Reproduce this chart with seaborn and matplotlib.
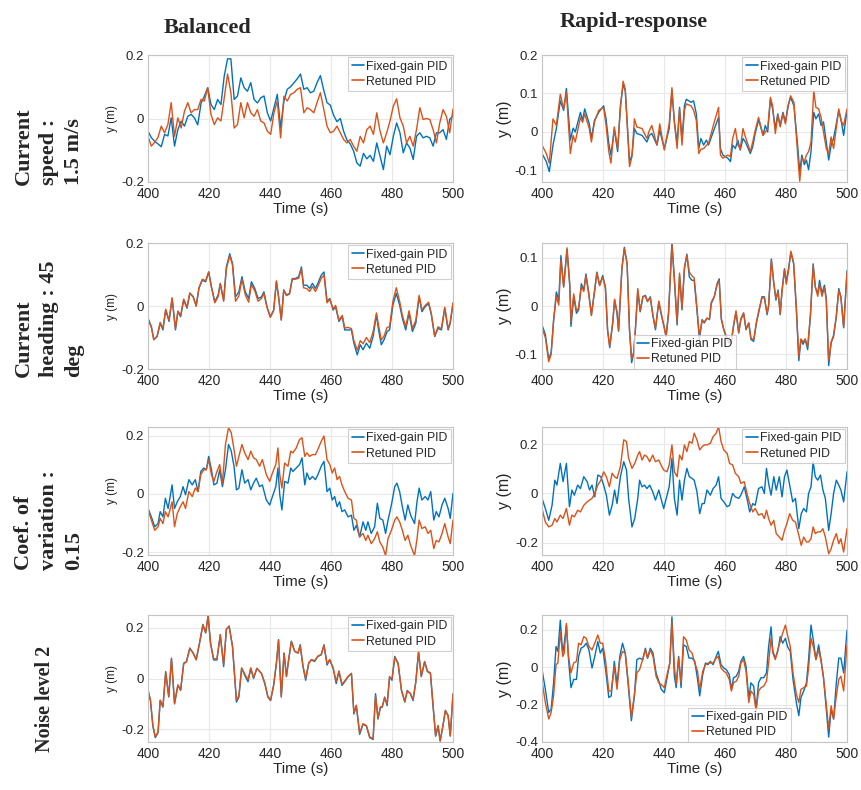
import numpy as np
import seaborn as sns
import matplotlib.pyplot as plt

# Simulated lateral position y (m) vs time, two controllers, four scenarios x two tunings

labels_fixed = "Fixed-gain PID"
labels_fixed_typo = "Fixed-gian PID"
labels_retuned = "Retuned PID"

row_titles = ["Current\nspeed :\n1.5 m/s", "Current\nheading : 45\ndeg",
              "Coef. of\nvariation :\n0.15", "Noise level 2"]
col_titles = ["Balanced", "Rapid-response"]

# ---- current speed, balanced ----
t_speed_bal = np.linspace(400, 500, 93)
speed_bal_fixed = [
    -0.040, -0.060, -0.072, -0.080, -0.089, -0.050, -0.055, 0.002, -0.087, -0.035,
    -0.008, -0.024, 0.007, 0.013, 0.002, -0.020, 0.048, 0.070, 0.097, 0.044,
    0.028, 0.060, 0.044, 0.134, 0.188, 0.188, 0.060, 0.071, 0.128, 0.097,
    0.086, 0.113, 0.060, 0.049, 0.065, 0.071, 0.018, -0.008, 0.034, 0.076,
    -0.029, 0.055, 0.092, 0.100, 0.112, 0.125, 0.140, 0.092, 0.097, 0.081,
    0.086, 0.113, 0.135, 0.090, 0.050, 0.042, 0.010, -0.010, 0.000, -0.040,
    -0.068, -0.080, -0.102, -0.140, -0.150, -0.110, -0.127, -0.116, -0.135, -0.077,
    -0.119, -0.161, -0.087, -0.114, -0.056, -0.014, -0.045, -0.108, -0.077, -0.093,
    -0.129, -0.056, -0.045, -0.061, -0.056, -0.061, -0.087, -0.045, -0.045, -0.035,
    -0.066, -0.003, 0.009]
speed_bal_retuned = [
    -0.056, -0.087, -0.075, -0.060, -0.024, -0.045, -0.019, 0.050, -0.056, 0.002,
    -0.030, 0.023, 0.050, 0.018, 0.028, 0.028, 0.060, 0.055, 0.097, 0.013,
    -0.019, 0.002, -0.008, 0.065, 0.140, 0.081, -0.030, -0.019, 0.050, 0.002,
    0.050, 0.018, 0.007, 0.028, -0.008, -0.014, -0.040, -0.050, 0.018, 0.055,
    -0.061, 0.070, 0.055, 0.076, 0.081, 0.092, 0.097, 0.018, 0.034, 0.028,
    0.018, 0.050, 0.081, 0.030, -0.024, -0.045, -0.040, -0.024, -0.045, -0.066,
    -0.077, -0.066, -0.087, -0.103, -0.056, -0.077, -0.035, -0.024, -0.050, 0.018,
    -0.040, -0.077, -0.045, -0.008, 0.039, 0.062, 0.002, -0.024, -0.077, -0.056,
    -0.087, -0.035, 0.034, -0.003, 0.000, -0.003, -0.035, -0.077, -0.014, 0.028,
    0.007, -0.045, 0.030]

# ---- current speed, rapid-response ----
t_speed_rapid = [
    400.0, 401.4, 402.4, 403.6, 404.7, 406.0, 407.1, 408.0, 409.3, 410.2,
    410.9, 412.6, 413.3, 414.0, 415.5, 416.2, 417.2, 418.6, 420.2, 421.0,
    421.9, 422.6, 423.7, 424.8, 425.7, 426.6, 427.3, 428.7, 429.5, 430.3,
    431.1, 432.8, 434.4, 435.2, 436.0, 437.7, 438.6, 440.1, 441.7, 442.6,
    443.4, 444.3, 445.1, 445.9, 446.7, 447.3, 448.9, 449.7, 450.6, 451.4,
    452.1, 453.0, 453.9, 454.6, 456.3, 457.9, 458.5, 459.3, 460.9, 461.8,
    462.5, 463.4, 464.2, 465.0, 465.9, 466.7, 468.3, 469.1, 469.9, 471.0,
    472.5, 473.2, 474.0, 474.9, 475.6, 476.5, 477.3, 478.1, 479.0, 479.8,
    480.7, 481.5, 482.6, 483.8, 484.5, 485.2, 486.0, 486.7, 487.4, 488.2,
    489.1, 489.8, 490.7, 491.5, 492.3, 493.2, 494.0, 494.8, 495.6, 497.3,
    498.0, 498.9, 500.0]
speed_rapid_fixed = [
    -0.056, -0.077, -0.103, -0.034, 0.009, 0.081, 0.056, 0.113, -0.021, 0.010,
    0.0, 0.051, 0.030, 0.060, 0.021, -0.017, 0.030, 0.051, 0.068, 0.034,
    -0.030, -0.060, 0.007, -0.051, 0.068, 0.124, 0.107, -0.077, -0.060, 0.009,
    -0.004, -0.009, -0.026, -0.009, -0.004, -0.034, 0.004, -0.043, 0.009, 0.107,
    0.026, -0.030, 0.064, -0.021, 0.068, 0.085, 0.077, 0.081, 0.047, -0.043,
    -0.017, -0.034, -0.021, -0.034, 0.004, 0.038, -0.043, -0.060, -0.068, -0.077,
    -0.034, -0.043, -0.021, -0.047, -0.017, -0.026, -0.056, -0.038, -0.004, 0.032,
    -0.009, 0.017, 0.0, 0.085, 0.060, 0.009, 0.047, 0.017, 0.051, 0.026,
    0.068, 0.090, 0.068, -0.034, -0.103, -0.060, -0.085, -0.073, -0.098, -0.051,
    0.051, 0.034, 0.047, 0.017, 0.026, -0.026, -0.073, -0.034, -0.017, 0.056,
    0.034, -0.009, 0.056]
speed_rapid_retuned = [
    -0.034, -0.056, -0.081, 0.034, 0.017, 0.098, 0.060, 0.103, -0.056, -0.009,
    -0.026, 0.038, 0.025, 0.047, 0.009, -0.026, 0.026, 0.056, 0.064, 0.017,
    -0.051, -0.081, 0.013, -0.043, 0.060, 0.132, 0.111, -0.090, -0.064, 0.034,
    0.013, 0.009, -0.017, 0.004, 0.017, -0.034, 0.021, -0.047, 0.021, 0.115,
    0.026, -0.043, 0.060, -0.034, 0.056, 0.073, 0.068, 0.056, 0.030, -0.056,
    -0.045, -0.043, -0.035, -0.030, 0.021, 0.064, -0.060, -0.068, -0.060, -0.064,
    -0.017, 0.009, -0.034, -0.043, 0.009, -0.013, -0.051, -0.026, 0.004, 0.038,
    -0.009, 0.0, 0.009, 0.090, 0.068, -0.004, 0.043, 0.013, 0.047, 0.021,
    0.068, 0.094, 0.077, -0.056, -0.128, -0.068, -0.077, -0.060, -0.051, -0.026,
    0.107, 0.064, 0.060, 0.038, 0.0, -0.043, -0.056, -0.013, -0.043, 0.060,
    0.030, 0.017, 0.060]

# ---- current heading, balanced ----
t_heading_bal = [
    400.0, 401.1, 401.9, 403.0, 404.0, 404.9, 405.8, 406.9, 407.9, 409.0,
    409.8, 410.7, 411.7, 412.8, 413.7, 414.8, 415.8, 416.7, 417.8, 418.9,
    419.9, 420.8, 421.9, 423.0, 423.7, 424.8, 425.7, 426.8, 427.7, 428.7,
    429.8, 430.8, 431.9, 433.0, 433.9, 435.0, 436.1, 437.2, 438.0, 439.0,
    440.1, 441.2, 442.1, 442.8, 443.7, 444.5, 445.4, 446.4, 447.3, 448.3,
    449.4, 450.3, 451.0, 452.1, 453.0, 453.9, 454.9, 455.7, 456.8, 457.7,
    458.7, 459.6, 460.7, 461.5, 462.6, 463.7, 464.5, 465.6, 466.7, 467.5,
    468.6, 469.6, 470.5, 471.6, 472.7, 473.8, 474.9, 475.6, 476.5, 477.4,
    478.4, 479.2, 480.3, 481.4, 482.5, 483.4, 484.5, 485.6, 486.7, 487.8,
    488.9, 489.8, 490.9, 492.0, 492.9, 494.0, 495.1, 496.2, 497.3, 498.4,
    499.1, 500.0]
heading_bal_fixed = [
    -0.039, -0.065, -0.107, -0.097, -0.055, -0.076, -0.013, -0.049, 0.024, -0.076,
    -0.018, -0.034, 0.019, -0.007, 0.040, 0.029, 0.0, 0.056, 0.082, 0.077,
    0.108, 0.061, 0.014, 0.035, 0.072, 0.019, 0.124, 0.166, 0.135, 0.029,
    0.045, 0.093, 0.045, 0.024, 0.077, 0.056, 0.024, 0.029, 0.045, -0.002,
    -0.034, -0.013, 0.077, 0.029, -0.044, 0.051, 0.035, 0.040, 0.087, 0.087,
    0.093, 0.124, 0.066, 0.066, 0.056, 0.072, 0.056, 0.072, 0.098, 0.108,
    0.014, 0.024, -0.013, -0.002, -0.049, -0.034, -0.076, -0.076, -0.076, -0.118,
    -0.155, -0.123, -0.139, -0.118, -0.134, -0.097, -0.028, -0.076, -0.123, -0.107,
    -0.081, -0.076, 0.003, 0.040, 0.003, -0.039, -0.076, -0.023, -0.081, -0.055,
    0.029, -0.018, -0.002, 0.008, -0.028, -0.097, -0.071, -0.076, -0.007, -0.076,
    -0.055, 0.008]
heading_bal_retuned = [
    -0.042, -0.068, -0.107, -0.095, -0.052, -0.072, -0.010, -0.045, 0.026, -0.072,
    -0.016, -0.030, 0.022, -0.004, 0.042, 0.030, 0.0, 0.058, 0.085, 0.080,
    0.108, 0.060, 0.010, 0.030, 0.070, 0.015, 0.118, 0.160, 0.130, 0.015,
    0.032, 0.085, 0.035, 0.012, 0.068, 0.048, 0.015, 0.024, 0.040, -0.004,
    -0.036, -0.015, 0.080, 0.030, -0.045, 0.050, 0.033, 0.038, 0.085, 0.085,
    0.088, 0.118, 0.058, 0.055, 0.046, 0.062, 0.046, 0.062, 0.088, 0.098,
    0.010, 0.022, -0.010, 0.002, -0.045, -0.030, -0.070, -0.068, -0.072, -0.110,
    -0.140, -0.110, -0.120, -0.100, -0.116, -0.082, -0.022, -0.062, -0.108, -0.095,
    -0.068, -0.066, 0.015, 0.058, 0.015, -0.030, -0.066, -0.015, -0.072, -0.045,
    0.034, -0.012, 0.002, 0.012, -0.024, -0.095, -0.066, -0.072, -0.004, -0.072,
    -0.050, 0.010]

# ---- current heading, rapid-response ----
t_heading_rapid = [
    400.0, 401.1, 402.2, 403.0, 403.8, 404.7, 405.5, 406.2, 407.1, 408.2,
    409.1, 409.5, 410.4, 411.3, 412.0, 412.9, 413.7, 414.4, 415.3, 416.2,
    417.2, 418.0, 418.9, 419.9, 420.8, 421.5, 422.2, 423.2, 423.8, 424.6,
    425.1, 426.2, 427.0, 427.9, 428.7, 429.4, 430.1, 430.7, 431.4, 432.2,
    433.1, 433.9, 434.6, 435.5, 436.4, 437.2, 438.3, 439.0, 439.9, 440.7,
    441.5, 442.6, 443.4, 444.3, 445.1, 445.9, 446.7, 447.5, 448.3, 449.2,
    449.9, 450.8, 451.6, 452.5, 453.2, 454.1, 454.9, 455.5, 456.5, 457.4,
    458.1, 458.8, 459.6, 460.3, 461.2, 462.0, 462.8, 463.6, 464.5, 465.2,
    466.1, 466.9, 467.8, 468.5, 469.4, 470.3, 471.0, 472.1, 472.9, 473.8,
    474.3, 475.2, 476.0, 476.7, 477.4, 478.1, 478.7, 479.5, 480.1, 480.9,
    481.6, 482.5, 483.4, 484.2, 484.9, 485.6, 486.3, 487.1, 488.0, 488.9,
    489.6, 490.4, 491.0, 491.8, 492.6, 493.2, 494.0, 494.8, 495.6, 496.5,
    497.3, 498.0, 498.9, 500.0]
heading_rapid_fixed = [
    -0.039, -0.059, -0.110, -0.096, -0.032, 0.029, 0.012, 0.104, 0.039, 0.117,
    0.046, -0.042, 0.019, -0.015, -0.008, 0.046, 0.033, 0.066, 0.029, -0.018,
    0.029, 0.070, 0.043, 0.063, 0.039, -0.049, -0.086, -0.035, 0.012, -0.015,
    -0.052, 0.077, 0.121, 0.087, -0.049, -0.117, -0.096, -0.042, 0.033, -0.012,
    0.019, 0.022, 0.009, 0.019, -0.022, -0.049, 0.009, -0.015, -0.039, -0.063,
    -0.015, 0.131, 0.053, -0.039, 0.063, -0.008, 0.077, 0.107, 0.060, 0.053,
    0.053, -0.008, -0.069, -0.028, -0.035, -0.025, -0.028, 0.005, 0.019, 0.046,
    0.056, -0.028, -0.049, -0.063, -0.076, -0.076, -0.042, -0.012, -0.056, -0.028,
    -0.015, -0.049, -0.035, -0.069, -0.073, -0.035, -0.015, 0.019, 0.019, -0.018,
    -0.001, 0.097, 0.046, 0.012, 0.033, -0.018, 0.033, 0.077, 0.049, 0.080,
    0.111, 0.087, -0.008, -0.113, -0.069, -0.079, -0.069, -0.090, -0.022, 0.087,
    0.039, 0.026, 0.053, 0.026, 0.043, 0.016, -0.123, -0.076, -0.063, -0.022,
    0.036, 0.019, -0.045, 0.073]
heading_rapid_retuned = [
    -0.045, -0.065, -0.115, -0.100, -0.028, 0.020, 0.002, 0.095, 0.040, 0.120,
    0.040, -0.032, 0.025, -0.010, -0.004, 0.040, 0.030, 0.062, 0.025, -0.020,
    0.030, 0.068, 0.042, 0.060, 0.036, -0.050, -0.084, -0.032, 0.014, -0.012,
    -0.050, 0.078, 0.118, 0.088, -0.052, -0.110, -0.094, -0.040, 0.036, -0.010,
    0.020, 0.020, 0.010, 0.017, -0.020, -0.046, 0.010, -0.012, -0.040, -0.062,
    -0.012, 0.128, 0.058, -0.034, 0.068, -0.004, 0.080, 0.105, 0.070, 0.062,
    0.058, -0.004, -0.062, -0.030, -0.033, -0.025, -0.028, 0.008, 0.020, 0.044,
    0.052, -0.026, -0.048, -0.060, -0.072, -0.075, -0.040, -0.010, -0.054, -0.026,
    -0.014, -0.047, -0.035, -0.066, -0.070, -0.033, -0.012, 0.016, 0.017, -0.015,
    0.002, 0.094, 0.048, 0.015, 0.030, -0.016, 0.030, 0.074, 0.045, 0.076,
    0.113, 0.090, -0.004, -0.105, -0.068, -0.074, -0.068, -0.084, -0.018, 0.083,
    0.040, 0.020, 0.045, 0.020, 0.038, 0.012, -0.112, -0.074, -0.060, -0.020,
    0.032, 0.018, -0.044, 0.068]

# ---- coefficient of variation, balanced ----
t_cov_bal = [
    400.0, 401.1, 402.2, 403.3, 404.0, 404.9, 405.7, 406.6, 407.9, 408.7,
    409.6, 410.6, 411.5, 412.3, 413.4, 414.5, 415.5, 416.4, 417.3, 418.3,
    419.1, 419.9, 420.8, 421.6, 422.6, 423.5, 424.4, 425.4, 426.4, 427.3,
    428.2, 429.0, 429.8, 430.8, 431.7, 432.8, 433.7, 434.6, 435.5, 436.6,
    437.5, 438.8, 439.9, 440.8, 441.9, 442.6, 443.2, 443.9, 444.8, 445.9,
    446.8, 447.5, 448.6, 449.7, 450.5, 451.4, 452.1, 453.0, 453.9, 454.9,
    455.7, 456.8, 457.7, 458.7, 459.6, 460.4, 461.2, 462.0, 462.8, 463.6,
    464.5, 465.6, 466.7, 467.5, 468.3, 469.4, 470.5, 471.4, 472.1, 473.2,
    474.3, 475.2, 476.0, 477.0, 477.9, 478.7, 479.8, 480.9, 481.6, 482.5,
    483.4, 484.3, 485.2, 486.1, 487.4, 488.2, 488.9, 489.8, 490.9, 491.8,
    492.7, 493.7, 494.5, 495.4, 496.4, 497.3, 498.4, 499.1, 500.0]
cov_bal_fixed = [
    -0.050, -0.079, -0.113, -0.102, -0.061, -0.079, -0.015, -0.050, 0.031, -0.050,
    -0.027, -0.009, 0.025, -0.003, 0.049, 0.031, 0.049, 0.008, 0.077, 0.089,
    0.083, 0.129, 0.083, 0.031, 0.037, 0.083, 0.025, 0.083, 0.170, 0.147,
    0.095, 0.014, 0.020, 0.083, 0.037, 0.049, 0.014, 0.037, 0.054, 0.025,
    0.031, -0.021, -0.038, -0.009, 0.025, 0.089, -0.003, -0.055, 0.043, 0.037,
    0.089, 0.077, 0.089, 0.101, 0.124, 0.031, 0.072, 0.049, 0.060, 0.049,
    0.066, 0.095, 0.112, 0.008, 0.020, -0.021, -0.009, -0.044, -0.027, -0.061,
    -0.055, -0.079, -0.073, -0.125, -0.108, -0.148, -0.096, -0.125, -0.096, -0.136,
    -0.113, -0.032, -0.084, -0.090, -0.136, -0.090, -0.038, 0.025, 0.037, 0.008,
    -0.044, -0.090, -0.038, -0.073, -0.102, -0.027, 0.020, -0.021, -0.009, -0.021,
    0.008, -0.090, -0.061, -0.079, -0.038, -0.015, -0.050, -0.084, 0.002]
cov_bal_retuned = [
    -0.053, -0.090, -0.125, -0.113, -0.084, -0.102, -0.061, -0.079, -0.027, -0.113,
    -0.067, -0.044, -0.027, -0.050, 0.008, -0.009, 0.020, 0.008, 0.066, 0.083,
    0.083, 0.118, 0.066, 0.043, 0.077, 0.101, 0.037, 0.170, 0.228, 0.210,
    0.153, 0.095, 0.129, 0.170, 0.141, 0.118, 0.147, 0.124, 0.118, 0.095,
    0.118, 0.066, 0.043, 0.072, 0.101, 0.158, 0.066, 0.020, 0.106, 0.095,
    0.147, 0.141, 0.158, 0.187, 0.193, 0.129, 0.141, 0.129, 0.135, 0.135,
    0.153, 0.181, 0.199, 0.118, 0.101, 0.072, 0.089, 0.049, 0.060, 0.031,
    0.008, -0.015, -0.021, -0.084, -0.090, -0.148, -0.136, -0.160, -0.142, -0.171,
    -0.154, -0.130, -0.165, -0.183, -0.212, -0.154, -0.125, -0.090, -0.079, -0.096,
    -0.125, -0.160, -0.142, -0.177, -0.212, -0.154, -0.090, -0.119, -0.113, -0.136,
    -0.125, -0.188, -0.160, -0.165, -0.136, -0.102, -0.148, -0.171, -0.090]

# ---- coefficient of variation, rapid-response ----
t_cov_rapid = [
    400.0, 401.1, 402.2, 403.3, 404.2, 404.9, 406.0, 406.9, 408.0, 409.0,
    409.8, 410.6, 411.7, 412.6, 413.7, 414.8, 415.6, 416.4, 417.3, 418.3,
    419.3, 420.2, 421.1, 422.1, 423.0, 423.8, 424.6, 425.7, 426.8, 427.7,
    428.4, 429.5, 430.4, 431.4, 432.0, 432.8, 433.6, 434.4, 435.3, 436.3,
    437.2, 438.3, 439.0, 439.9, 441.0, 441.7, 442.6, 443.4, 444.3, 445.1,
    445.9, 446.7, 447.5, 448.3, 449.2, 449.9, 450.8, 451.7, 452.5, 453.2,
    454.1, 455.2, 456.1, 457.1, 457.9, 458.7, 459.6, 460.7, 461.5, 462.5,
    463.4, 464.5, 465.2, 466.3, 467.2, 468.1, 469.1, 469.9, 471.0, 472.1,
    472.9, 473.6, 474.3, 475.1, 476.0, 476.8, 477.8, 478.7, 479.5, 480.3,
    481.2, 482.2, 483.1, 484.2, 485.0, 485.8, 486.7, 487.4, 488.2, 488.9,
    489.6, 490.4, 491.3, 492.1, 492.9, 494.0, 494.8, 495.6, 496.5, 497.3,
    498.0, 498.9, 500.0]
cov_rapid_fixed = [
    -0.020, -0.061, -0.109, -0.048, 0.054, 0.034, 0.122, 0.048, 0.122, -0.054,
    0.014, -0.007, 0.034, 0.020, 0.068, 0.048, 0.014, 0.034, -0.014, 0.075,
    0.068, 0.034, -0.007, -0.088, -0.048, 0.014, -0.041, 0.068, 0.129, 0.095,
    -0.020, -0.136, -0.102, -0.020, 0.054, 0.027, 0.034, 0.020, 0.034, 0.007,
    -0.027, 0.014, -0.020, -0.061, -0.007, 0.027, 0.143, -0.020, -0.088, 0.054,
    -0.027, 0.054, 0.102, 0.068, 0.061, 0.054, 0.007, -0.082, -0.041, -0.041,
    0.014, -0.007, 0.020, 0.034, 0.068, -0.020, -0.034, -0.054, -0.048, 0.0,
    -0.014, -0.020, -0.007, 0.027, -0.020, -0.075, -0.041, -0.048, 0.020, 0.027,
    0.0, 0.102, 0.041, -0.007, 0.068, 0.014, 0.068, -0.014, 0.068, 0.095,
    0.034, -0.034, -0.020, -0.143, -0.082, -0.061, -0.075, 0.0, 0.027, 0.129,
    0.068, 0.054, 0.075, 0.014, -0.020, -0.150, -0.082, 0.0, 0.054, 0.034,
    0.014, -0.034, 0.088]
cov_rapid_retuned = [
    -0.061, -0.116, -0.136, -0.129, -0.102, -0.116, -0.088, -0.102, -0.061, -0.129,
    -0.088, -0.095, -0.068, -0.075, -0.048, -0.034, -0.027, -0.020, 0.0, 0.034,
    0.054, 0.088, 0.068, 0.027, 0.082, 0.068, 0.061, 0.109, 0.218, 0.211,
    0.143, 0.102, 0.122, 0.156, 0.170, 0.136, 0.156, 0.150, 0.129, 0.156,
    0.129, 0.136, 0.116, 0.095, 0.088, 0.116, 0.197, 0.088, 0.068, 0.156,
    0.136, 0.197, 0.170, 0.211, 0.204, 0.245, 0.218, 0.177, 0.190, 0.197,
    0.197, 0.204, 0.231, 0.245, 0.272, 0.211, 0.177, 0.163, 0.122, 0.116,
    0.082, 0.068, 0.041, 0.048, 0.0, -0.041, -0.075, -0.061, -0.088, -0.082,
    -0.102, -0.068, -0.102, -0.129, -0.109, -0.163, -0.177, -0.190, -0.150, -0.122,
    -0.082, -0.109, -0.116, -0.170, -0.211, -0.177, -0.197, -0.197, -0.184, -0.136,
    -0.163, -0.156, -0.156, -0.143, -0.177, -0.245, -0.224, -0.190, -0.163, -0.204,
    -0.184, -0.238, -0.143]

# ---- noise level 2, balanced ----
t_noise_bal = [
    400.0, 400.8, 401.6, 402.4, 403.3, 404.0, 404.9, 405.8, 406.8, 407.7,
    408.7, 409.8, 410.7, 411.7, 412.6, 413.7, 414.8, 415.8, 416.9, 418.0,
    418.9, 419.7, 420.5, 421.5, 422.6, 423.7, 424.8, 425.7, 426.6, 427.7,
    429.0, 429.8, 430.7, 431.7, 432.8, 433.7, 434.6, 435.7, 437.2, 438.3,
    439.3, 440.2, 441.2, 442.1, 442.8, 443.7, 444.6, 445.4, 446.1, 447.0,
    448.1, 449.2, 449.9, 450.8, 451.7, 452.7, 453.6, 454.6, 455.7, 456.8,
    457.7, 458.7, 459.6, 460.7, 461.7, 462.6, 463.6, 464.5, 465.6, 466.7,
    467.5, 468.3, 469.4, 470.5, 471.6, 472.7, 473.8, 474.6, 475.4, 476.2,
    476.8, 477.6, 478.4, 479.2, 480.0, 480.9, 482.0, 483.1, 484.2, 485.0,
    486.0, 486.9, 487.8, 488.7, 489.6, 490.7, 491.6, 492.6, 493.4, 494.3,
    495.1, 495.8, 496.7, 497.5, 498.4, 499.1, 500.0]
noise_bal_fixed = [
    -0.047, -0.087, -0.187, -0.233, -0.213, -0.087, -0.113, 0.027, -0.073, 0.080,
    -0.100, -0.027, -0.047, 0.060, 0.067, 0.120, 0.100, 0.073, 0.140, 0.213,
    0.180, 0.247, 0.140, 0.073, 0.073, 0.173, 0.047, 0.193, 0.207, 0.127,
    -0.093, -0.073, 0.040, 0.013, -0.013, 0.040, 0.0, 0.040, 0.020, -0.020,
    -0.073, -0.087, -0.027, 0.060, 0.153, -0.073, 0.100, 0.007, 0.073, 0.147,
    0.107, 0.100, 0.133, 0.047, -0.007, 0.060, 0.073, 0.067, 0.087, 0.093,
    0.133, 0.053, 0.073, 0.040, -0.020, 0.027, -0.027, -0.013, 0.007, 0.020,
    -0.140, -0.107, -0.220, -0.180, -0.187, -0.233, -0.240, -0.060, -0.160, -0.113,
    -0.113, -0.073, -0.107, 0.007, -0.007, 0.087, 0.060, -0.047, -0.093, -0.047,
    -0.060, -0.087, -0.013, 0.107, 0.007, 0.067, 0.027, 0.020, -0.100, -0.227,
    -0.187, -0.247, -0.187, -0.127, -0.147, -0.227, -0.060]
noise_bal_retuned = [
    -0.045, -0.085, -0.185, -0.230, -0.210, -0.085, -0.110, 0.025, -0.070, 0.078,
    -0.097, -0.025, -0.045, 0.058, 0.065, 0.118, 0.100, 0.075, 0.140, 0.210,
    0.180, 0.245, 0.140, 0.078, 0.078, 0.170, 0.055, 0.195, 0.205, 0.127,
    -0.085, -0.068, 0.042, 0.018, -0.005, 0.042, 0.003, 0.040, 0.020, -0.018,
    -0.070, -0.085, -0.025, 0.060, 0.150, -0.070, 0.100, 0.010, 0.073, 0.145,
    0.107, 0.100, 0.130, 0.050, 0.000, 0.062, 0.075, 0.070, 0.088, 0.095,
    0.130, 0.058, 0.075, 0.042, -0.012, 0.030, -0.022, -0.010, 0.008, 0.020,
    -0.135, -0.105, -0.215, -0.178, -0.185, -0.230, -0.237, -0.068, -0.155, -0.113,
    -0.110, -0.075, -0.100, 0.005, -0.002, 0.082, 0.058, -0.045, -0.090, -0.050,
    -0.058, -0.082, -0.015, 0.103, 0.010, 0.065, 0.030, 0.022, -0.095, -0.225,
    -0.185, -0.245, -0.185, -0.125, -0.145, -0.225, -0.062]

# ---- noise level 2, rapid-response ----
t_noise_rapid = [
    400.0, 401.1, 402.2, 403.0, 403.8, 404.6, 405.2, 406.0, 406.8, 407.3,
    408.0, 408.7, 409.5, 410.4, 411.3, 412.0, 412.8, 413.7, 414.5, 415.4,
    416.4, 417.3, 418.3, 419.1, 419.9, 420.8, 421.9, 422.7, 423.7, 424.6,
    425.5, 426.4, 427.3, 428.2, 429.3, 430.3, 431.1, 432.0, 433.0, 433.9,
    434.6, 435.5, 436.4, 437.4, 438.3, 439.1, 440.1, 441.0, 441.9, 442.6,
    443.4, 444.0, 444.8, 445.6, 446.4, 447.3, 448.2, 449.2, 450.1, 451.0,
    451.7, 452.7, 453.6, 454.4, 455.2, 456.1, 457.1, 457.8, 458.7, 459.6,
    460.4, 461.4, 462.1, 462.8, 463.7, 464.5, 465.2, 466.1, 466.9, 467.8,
    468.5, 469.4, 470.2, 471.0, 471.8, 472.7, 473.6, 474.3, 475.1, 475.7,
    476.5, 477.3, 478.1, 478.9, 479.8, 480.5, 481.4, 482.3, 483.4, 484.2,
    484.9, 485.8, 486.7, 487.4, 488.2, 489.1, 489.8, 490.7, 491.5, 492.3,
    493.2, 494.0, 494.8, 495.6, 496.5, 497.3, 498.0, 498.9, 500.0]
noise_rapid_fixed = [
    -0.012, -0.118, -0.242, -0.224, -0.083, 0.111, 0.085, 0.252, 0.076, 0.129,
    0.226, 0.041, -0.109, -0.065, -0.065, 0.058, 0.102, 0.111, 0.129, 0.093,
    -0.004, 0.058, 0.138, 0.076, 0.102, -0.004, -0.162, -0.153, 0.032, -0.092,
    0.058, 0.129, 0.076, -0.083, -0.286, -0.153, 0.041, 0.049, 0.041, 0.102,
    0.049, 0.102, 0.076, -0.030, -0.074, -0.118, -0.136, -0.056, 0.023, 0.270,
    -0.048, -0.109, 0.058, -0.109, 0.120, 0.111, 0.049, 0.049, 0.032, -0.065,
    -0.153, -0.039, 0.023, 0.014, 0.032, 0.014, 0.058, 0.085, 0.014, -0.004,
    -0.012, -0.039, -0.118, -0.056, -0.048, -0.021, 0.032, 0.058, 0.005, -0.171,
    -0.083, -0.101, -0.224, -0.083, -0.056, -0.056, -0.030, 0.111, 0.217, 0.085,
    0.049, 0.085, 0.164, 0.129, 0.155, 0.111, 0.085, -0.065, -0.189, -0.259,
    -0.162, -0.127, -0.083, 0.041, 0.226, 0.129, 0.041, 0.120, 0.041, -0.056,
    -0.224, -0.374, -0.224, -0.277, -0.083, 0.049, 0.049, -0.030, 0.199]
noise_rapid_retuned = [
    -0.074, -0.189, -0.277, -0.242, -0.153, 0.014, 0.023, 0.190, 0.058, 0.076,
    0.235, 0.058, -0.030, 0.023, 0.032, 0.129, 0.120, 0.164, 0.155, 0.111,
    0.093, 0.129, 0.173, 0.129, 0.129, 0.041, -0.127, -0.127, 0.005, -0.118,
    0.041, 0.085, 0.076, -0.065, -0.268, -0.145, -0.030, -0.012, 0.041, 0.093,
    0.049, 0.093, 0.058, -0.048, -0.083, -0.092, -0.109, -0.039, 0.023, 0.243,
    0.005, -0.092, 0.049, -0.083, 0.164, 0.146, 0.093, 0.076, 0.023, -0.021,
    -0.118, -0.021, 0.014, 0.023, 0.023, 0.023, 0.049, 0.058, -0.004, -0.021,
    -0.030, -0.065, -0.127, -0.083, -0.074, -0.048, 0.023, 0.041, -0.021, -0.189,
    -0.127, -0.145, -0.233, -0.127, -0.109, -0.101, -0.074, 0.023, 0.155, 0.076,
    0.041, 0.093, 0.138, 0.182, 0.226, 0.173, 0.111, -0.030, -0.145, -0.189,
    -0.118, -0.109, -0.101, -0.004, 0.155, 0.102, 0.041, 0.093, 0.032, -0.056,
    -0.198, -0.330, -0.206, -0.277, -0.153, -0.065, -0.048, -0.127, 0.120]

x_ticks = [400, 420, 440, 460, 480, 500]

sns.set_style("white")
plt.rcParams['font.family'] = ['Liberation Sans', 'DejaVu Sans']

BLUE = '#0072BD'
ORANGE = '#D95319'
EDGE = '#c4c4c4'
GRID = '#e8e8e8'
TEXT = '#262626'


def panel(ax, t, fixed, retuned, ylim, yticks, fixed_label, leg_loc, ylab_size):
    sns.lineplot(x=t, y=fixed, ax=ax, color=BLUE, linewidth=1.0,
                 label=fixed_label, estimator=None, sort=False)
    sns.lineplot(x=t, y=retuned, ax=ax, color=ORANGE, linewidth=1.0,
                 label=labels_retuned, estimator=None, sort=False)
    ax.set_xlim(400, 500)
    ax.set_ylim(*ylim)
    ax.set_xticks(x_ticks, labels=[str(v) for v in x_ticks])
    ax.set_yticks(yticks, labels=[f"{v:g}" for v in yticks])
    ax.grid(True, color=GRID, linewidth=0.8)
    for s in ax.spines.values():
        s.set_color(EDGE)
        s.set_linewidth(0.8)
    ax.tick_params(direction='in', length=3, color=EDGE, labelcolor=TEXT,
                   labelsize=10)
    ax.tick_params(axis='y', labelsize=9.5, pad=3)
    ax.set_xlabel("Time (s)", fontsize=11, color=TEXT, labelpad=1)
    ax.set_ylabel("y (m)", fontsize=ylab_size, color=TEXT, labelpad=2)
    leg_kw = dict(handlelength=1.0, handletextpad=0.15, labelspacing=0.25,
                  borderpad=0.3, prop={'size': 8.8})
    if leg_loc == 'upper right':
        leg = ax.legend(loc='upper right', borderaxespad=0.15, **leg_kw)
    else:
        leg = ax.legend(loc='lower left', bbox_to_anchor=leg_loc,
                        borderaxespad=0.0, **leg_kw)
    leg.get_frame().set_edgecolor(EDGE)
    leg.get_frame().set_linewidth(0.8)
    leg.get_frame().set_boxstyle('square', pad=0.0)
    for txt in leg.get_texts():
        txt.set_color(TEXT)
    for h in leg.get_lines():
        h.set_linewidth(1.2)


fig = plt.figure(figsize=(8.61, 7.90), dpi=100)
fig.patch.set_facecolor('white')

left_x, right_x, w = 148 / 861, 542 / 861, 305 / 861
rows_y = [(1 - 182 / 790, 127 / 790), (1 - 369 / 790, 126 / 790),
          (1 - 555 / 790, 128 / 790), (1 - 742 / 790, 127 / 790)]

panels = [
    (t_speed_bal, speed_bal_fixed, speed_bal_retuned, (-0.2, 0.2), [-0.2, 0, 0.2],
     labels_fixed, 'upper right',
     t_speed_rapid, speed_rapid_fixed, speed_rapid_retuned, (-0.13, 0.2),
     [-0.1, 0, 0.1, 0.2], labels_fixed, 'upper right'),
    (t_heading_bal, heading_bal_fixed, heading_bal_retuned, (-0.2, 0.2), [-0.2, 0, 0.2],
     labels_fixed, 'upper right',
     t_heading_rapid, heading_rapid_fixed, heading_rapid_retuned, (-0.13, 0.13),
     [-0.1, 0, 0.1], labels_fixed_typo, (0.3, 0.0)),
    (t_cov_bal, cov_bal_fixed, cov_bal_retuned, (-0.21, 0.23), [-0.2, 0, 0.2],
     labels_fixed, 'upper right',
     t_cov_rapid, cov_rapid_fixed, cov_rapid_retuned, (-0.25, 0.27),
     [-0.2, 0, 0.2], labels_fixed, 'upper right'),
    (t_noise_bal, noise_bal_fixed, noise_bal_retuned, (-0.25, 0.25), [-0.2, 0, 0.2],
     labels_fixed, 'upper right',
     t_noise_rapid, noise_rapid_fixed, noise_rapid_retuned, (-0.4, 0.28),
     [-0.4, -0.2, 0, 0.2], labels_fixed, (0.48, 0.0)),
]

for (y0, h), p in zip(rows_y, panels):
    axl = fig.add_axes([left_x, y0, w, h])
    panel(axl, p[0], p[1], p[2], p[3], p[4], p[5], p[6], 8.5)
    axr = fig.add_axes([right_x, y0, w, h])
    panel(axr, p[7], p[8], p[9], p[10], p[11], p[12], p[13], 11.5)

serif = ['Liberation Serif', 'DejaVu Serif']
fig.text(208 / 861, 1 - 28 / 790, col_titles[0], family=serif, weight='bold',
         fontsize=16, ha='center', va='center')
fig.text(634 / 861, 1 - 22 / 790, col_titles[1], family=serif, weight='bold',
         fontsize=16, ha='center', va='center')

row_label_pos = [(49, 185, 16), (49, 377, 16), (49, 570, 16), (45, 752, 14.5)]
for (px, py, fs), txt in zip(row_label_pos, row_titles):
    fig.text(px / 861, 1 - py / 790, txt, family=serif, weight='bold',
             fontsize=fs, rotation=90, ha='center', va='bottom',
             multialignment='left', linespacing=1.35)

fig.savefig('out.png', dpi=100, facecolor='white')
